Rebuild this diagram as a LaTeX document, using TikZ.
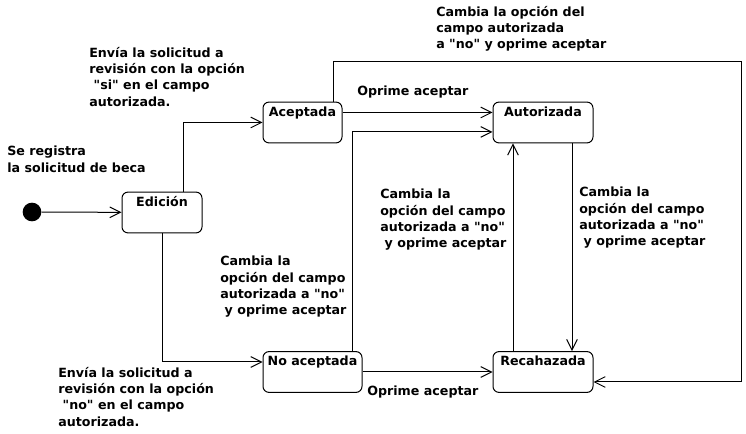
\documentclass[tikz,border=0pt]{standalone}
\usepackage{fontspec}
\setmainfont{DejaVu Sans}
\usetikzlibrary{arrows.meta}

% Comillas rectas
\newcommand{\cq}{\textquotedbl}

\tikzset{
  estado/.style={draw, rounded corners=4.5pt, line width=0.75pt, text height=8.2pt, text depth=17.8pt, inner ysep=2.3pt, inner xsep=0pt},
  nota/.style={anchor=north west, align=left, inner sep=0pt},
  flecha/.style={-{Straight Barb[length=8pt,width=8pt]}, line width=0.75pt},
}

\begin{document}
\begin{tikzpicture}[x=0.75pt, y=-0.75pt, font=\bfseries\fontsize{9.5pt}{12.2pt}\selectfont]
    % Marco de la figura
    \useasboundingbox (0,0) rectangle (746,434);

    % Estado inicial
    \node[circle, fill, inner sep=0pt, minimum size=14pt] (inicio) at (32,212) {};

    % Estados de la solicitud
    \node[estado, minimum width=60pt] (edicion) at (162,212.5) {Edición};
    \node[estado, minimum width=59.25pt] (aceptada) at (302.5,122.5) {Aceptada};
    \node[estado, minimum width=75pt] (autorizada) at (543,122.5) {Autorizada};
    \node[estado, minimum width=74.25pt] (noaceptada) at (312.5,372) {No aceptada};
    \node[estado, minimum width=75pt] (rechazada) at (543,372) {Recahazada};

    % Esquina del camino exterior
    \coordinate (esquina) at (741,62);

    % Transiciones
    \draw[flecha] (inicio) -- (edicion);
    \draw[flecha] ([xshift=15.75pt]edicion.north) |- (aceptada.west);
    \draw[flecha] (edicion.south) |- ([yshift=7.5pt]noaceptada.west);
    \draw[flecha] ([yshift=7.5pt]aceptada.east) -- ([yshift=7.5pt]autorizada.west);
    \draw[flecha] ([xshift=-7.5pt]noaceptada.north east) |- ([yshift=-7.1pt]autorizada.west);
    \draw[flecha] ([xshift=21.75pt]autorizada.south) -- ([xshift=21.75pt]rechazada.north);
    \draw[flecha] ([xshift=-22.5pt]rechazada.north) -- ([xshift=-22.5pt]autorizada.south);
    \draw[flecha] (noaceptada.east) -- (rechazada.west);
    \draw[flecha] ([xshift=-6.75pt]aceptada.north east) |- (esquina) |- ([yshift=-7.5pt]rechazada.east);

    % Etiquetas de las transiciones
    \node[nota] (registro) at (7,146) {Se registra\\la solicitud de beca};
    \node[nota] (enviasi) at (89,47) {Envía la solicitud a\\revisión con la opción\\~\cq si\cq{} en el campo\\autorizada.};
    \node[nota] (enviano) at (58,367) {Envía la solicitud a\\revisión con la opción\\~\cq no\cq{} en el campo\\autorizada.};
    \node[nota] (cambiaizq) at (220,256) {Cambia la\\opción del campo\\autorizada a \cq no\cq\\~y oprime aceptar};
    \node[nota] (cambiamed) at (380,189) {Cambia la\\opción del campo\\autorizada a \cq no\cq\\~y oprime aceptar};
    \node[nota] (cambiader) at (579,187) {Cambia la\\opción del campo\\autorizada a \cq no\cq\\~y oprime aceptar};
    \node[nota] (cambiasup) at (436,6) {Cambia la opción del\\campo autorizada\\a \cq no\cq{} y oprime aceptar};
    \node[nota] (oprimesup) at (357,86) {Oprime aceptar};
    \node[nota] (oprimeinf) at (367,386) {Oprime aceptar};
\end{tikzpicture}
\end{document}
